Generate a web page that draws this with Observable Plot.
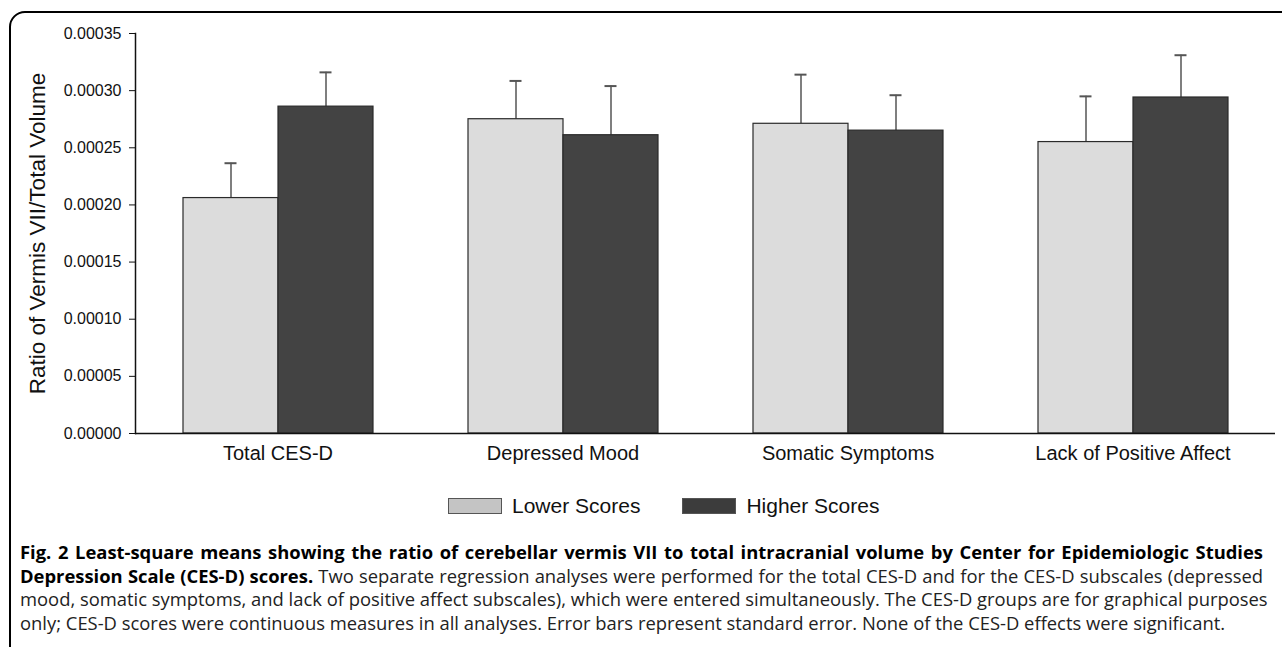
<!DOCTYPE html>
<html>
<head>
<meta charset="utf-8">
<script src="https://cdn.jsdelivr.net/npm/d3@7"></script>
<script src="https://cdn.jsdelivr.net/npm/@observablehq/plot@0.6"></script>
<style>
  html, body { margin: 0; padding: 0; background: #fff; }
  body { width: 1282px; height: 647px; overflow: hidden; position: relative; }
  #frame { position: absolute; left: 9px; top: 11px; width: 1320px; height: 660px;
           border: 2.5px solid #000; border-radius: 16px; box-sizing: border-box; pointer-events: none; }
  #chart { position: absolute; left: 0; top: 0; }
  #legend { position: absolute; top: 494px; left: 448px; display: flex; align-items: center;
            font-family: "Liberation Sans", Arial, sans-serif; font-size: 21px; color: #111; }
  .sw { width: 52px; height: 14px; border: 1px solid #555; margin-right: 10px; }
  .item { display: flex; align-items: center; margin-right: 42px; }
  #caption { position: absolute; left: 20px; top: 540px; width: 1243px;
             font-family: "Open Sans", "Noto Sans", sans-serif; font-size: 18.4px; line-height: 23.7px; color: #222; }
  #caption .ln { white-space: nowrap; text-align: justify; text-align-last: justify; }
  #caption .last { white-space: nowrap; }
  #caption b { color: #000; }
</style>
</head>
<body>
<div id="chart"></div>
<div id="legend"></div>
<div id="caption">
  <div class="ln"><b>Fig. 2 Least-square means showing the ratio of cerebellar vermis VII to total intracranial volume by Center for Epidemiologic Studies</b></div>
  <div class="ln"><b>Depression Scale (CES-D) scores.</b> Two separate regression analyses were performed for the total CES-D and for the CES-D subscales (depressed</div>
  <div class="ln">mood, somatic symptoms, and lack of positive affect subscales), which were entered simultaneously. The CES-D groups are for graphical purposes</div>
  <div class="last">only; CES-D scores were continuous measures in all analyses. Error bars represent standard error. None of the CES-D effects were significant.</div>
</div>
<div id="frame"></div>
<script>
const categories = ["Total CES-D", "Depressed Mood", "Somatic Symptoms", "Lack of Positive Affect"];
const groups = ["Lower Scores", "Higher Scores"];
const lowerMeans = [0.000206, 0.000275, 0.000271, 0.000255];
const lowerSE    = [0.0000305, 0.0000335, 0.000043, 0.000040];
const higherMeans = [0.000286, 0.000261, 0.000265, 0.000294];
const higherSE    = [0.000030, 0.000043, 0.000031, 0.000037];
const yTicks = [0, 0.00005, 0.00010, 0.00015, 0.00020, 0.00025, 0.00030, 0.00035];
const yLabel = "Ratio of Vermis VII/Total Volume";

const colors = {"Lower Scores": "#dcdcdc", "Higher Scores": "#434343"};
const legendColors = {"Lower Scores": "#c4c4c4", "Higher Scores": "#3c3c3c"};

const data = [];
categories.forEach((c, i) => {
  data.push({category: c, group: groups[0], mean: lowerMeans[i], se: lowerSE[i]});
  data.push({category: c, group: groups[1], mean: higherMeans[i], se: higherSE[i]});
});

const plot = Plot.plot({
  width: 1282,
  height: 470,
  marginLeft: 133,
  marginRight: 6,
  marginTop: 33,
  marginBottom: 37,
  style: {fontFamily: "'Liberation Sans', Arial, sans-serif", fontSize: "16px", color: "#111", background: "transparent"},
  fx: {domain: categories, padding: 0, label: null},
  x: {domain: groups, paddingInner: 0, paddingOuter: 0.5, axis: null},
  y: {domain: [0, 0.00035], label: null},
  color: {domain: groups, range: groups.map(g => colors[g])},
  marks: [
    Plot.ruleX(data, {fx: "category", x: "group", y1: "mean", y2: d => d.mean + d.se, stroke: "#555", strokeWidth: 1.5}),
    Plot.tickY(data, {fx: "category", x: "group", y: d => d.mean + d.se, stroke: "#555", strokeWidth: 2, insetLeft: 41.5, insetRight: 41.5}),
    Plot.barY(data, {fx: "category", x: "group", y: "mean", fill: "group", stroke: "#2a2a2a", strokeWidth: 1.2, insetLeft: 0, insetRight: 0}),
    Plot.ruleY([0], {stroke: "#111", strokeWidth: 1.5}),
    Plot.frame({anchor: "left", facetAnchor: "left", stroke: "#111", strokeWidth: 1.5}),
    Plot.axisY({ticks: yTicks, tickFormat: d3.format(".5f"), tickSize: 6, tickPadding: 8, fontSize: 16, label: yLabel, labelAnchor: "center", labelArrow: "none", labelOffset: 106}),
    Plot.axisFx({anchor: "bottom", tickSize: 0, tickPadding: 12, fontSize: 20, label: null})
  ]
});
document.getElementById("chart").appendChild(plot);
plot.querySelectorAll("text").forEach(t => { if (t.textContent === yLabel) t.setAttribute("font-size", "22.5"); });

const legend = document.getElementById("legend");
groups.forEach(g => {
  const item = document.createElement("div"); item.className = "item";
  const sw = document.createElement("div"); sw.className = "sw"; sw.style.background = legendColors[g];
  const tx = document.createElement("span"); tx.textContent = g;
  item.appendChild(sw); item.appendChild(tx); legend.appendChild(item);
});
</script>
</body>
</html>
